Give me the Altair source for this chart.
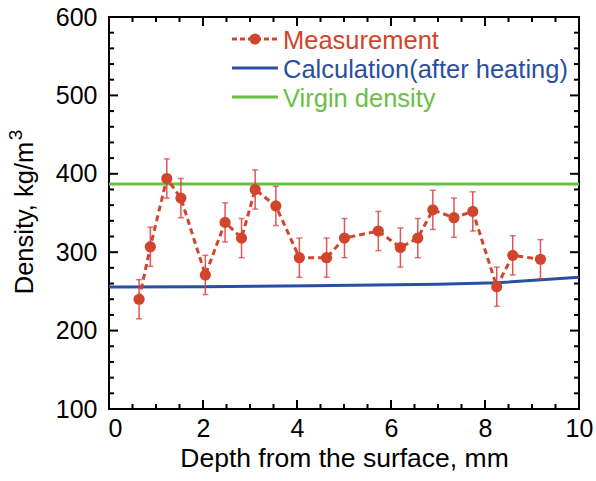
import altair as alt
import pandas as pd

# ---- data ----
meas_depth = [0.64, 0.88, 1.23, 1.53, 2.05, 2.47, 2.82, 3.11, 3.55, 4.05, 4.63,
              5.01, 5.73, 6.20, 6.57, 6.89, 7.34, 7.74, 8.25, 8.59, 9.18]
meas_density = [240, 307, 394, 369, 271, 338, 318, 380, 359, 293, 293,
                318, 327, 306, 318, 354, 344, 352, 256, 296, 291]
meas_error = [25, 25, 25, 25, 25, 25, 25, 25, 25, 25, 25,
              25, 25, 25, 25, 25, 25, 25, 25, 25, 25]

calc_depth = [0, 2, 4.3, 7, 8.25, 10]
calc_density = [255.5, 256, 257.3, 259, 261, 268]

virgin_depth = [0, 10]
virgin_density = [387, 387]

x_major = [0, 2, 4, 6, 8, 10]
x_minor = [0.5, 1, 1.5, 2.5, 3, 3.5, 4.5, 5, 5.5, 6.5, 7, 7.5, 8.5, 9, 9.5]
y_major = [100, 200, 300, 400, 500, 600]
y_minor = [120, 140, 160, 180, 220, 240, 260, 280, 320, 340, 360, 380,
           420, 440, 460, 480, 520, 540, 560, 580]

legend_labels = ["Measurement", "Calculation(after heating)", "Virgin density"]
x_title = "Depth from the surface, mm"
y_title_main = ["Density, kg/m"]
y_title_sup = ["3"]

RED = "#d0452c"
ERR = "#d9383c"
BLUE = "#2a4f9f"
GREEN = "#6abf45"
FONT = "Liberation Sans"
W, H = 470, 392

def X(field):
    return alt.X(f"{field}:Q", scale=alt.Scale(domain=[0, 10], nice=False, zero=False),
                 axis=alt.Axis(values=x_major, title=x_title,
                               tickSize=0, domain=False, grid=False, labelPadding=7,
                               labelFlush=False,
                               labelOffset={"condition": {"test": "datum.value == 0", "value": 6},
                                            "value": 0},
                               labelFontSize=25, titleFontSize=26.5, titlePadding=4,
                               labelFont=FONT, titleFont=FONT, titleFontWeight="normal",
                               labelColor="black", titleColor="black"))

def Y(field):
    return alt.Y(f"{field}:Q", scale=alt.Scale(domain=[100, 600], nice=False, zero=False),
                 axis=alt.Axis(values=y_major, title=None,
                               tickSize=0, domain=False, grid=False, labelPadding=12,
                               labelFlush=False,
                               labelFontSize=25, labelFont=FONT, labelColor="black"))

meas = pd.DataFrame({"x": meas_depth, "y": meas_density, "e": meas_error})
meas["lo"] = meas["y"] - meas["e"]
meas["hi"] = meas["y"] + meas["e"]
calc = pd.DataFrame({"x": calc_depth, "y": calc_density})
virgin = pd.DataFrame({"x": virgin_depth, "y": virgin_density})

virgin_line = alt.Chart(virgin).mark_line(color=GREEN, strokeWidth=3).encode(x=X("x"), y=Y("y"))
calc_line = alt.Chart(calc).mark_line(color=BLUE, strokeWidth=3).encode(x=X("x"), y=Y("y"))

err_rule = alt.Chart(meas).mark_rule(color=ERR, strokeWidth=1.5, opacity=0.85).encode(
    x=X("x"), y=Y("lo"), y2="hi")
err_lo = alt.Chart(meas).mark_tick(color=ERR, orient="horizontal", size=6, thickness=1.5).encode(
    x=X("x"), y=Y("lo"))
err_hi = alt.Chart(meas).mark_tick(color=ERR, orient="horizontal", size=6, thickness=1.5).encode(
    x=X("x"), y=Y("hi"))
meas_line = alt.Chart(meas).mark_line(color=RED, strokeWidth=3, strokeDash=[6, 4]).encode(
    x=X("x"), y=Y("y"))
meas_pts = alt.Chart(meas).mark_circle(color=RED, size=125, opacity=1).encode(
    x=X("x"), y=Y("y"))

# inward ticks on all four sides
xmaj = pd.DataFrame({"x": x_major})
xmin = pd.DataFrame({"x": x_minor})
ymaj = pd.DataFrame({"y": y_major})
ymin = pd.DataFrame({"y": y_minor})

def xticks(df, L):
    b = alt.Chart(df).mark_rule(color="black", strokeWidth=2).encode(
        x=X("x"), y=alt.value(H), y2=alt.value(H - L))
    t = alt.Chart(df).mark_rule(color="black", strokeWidth=2).encode(
        x=X("x"), y=alt.value(0), y2=alt.value(L))
    return [b, t]

def yticks(df, L):
    l = alt.Chart(df).mark_rule(color="black", strokeWidth=2).encode(
        y=Y("y"), x=alt.value(0), x2=alt.value(L))
    r = alt.Chart(df).mark_rule(color="black", strokeWidth=2).encode(
        y=Y("y"), x=alt.value(W), x2=alt.value(W - L))
    return [l, r]

ticks = xticks(xmaj, 9) + xticks(xmin, 5) + yticks(ymaj, 9) + yticks(ymin, 5)

# y-axis title with a real superscript
ytitle_main = alt.Chart(pd.DataFrame({"t": y_title_main})).mark_text(
    fontSize=25.5, font=FONT, color="black", angle=270, align="center", baseline="alphabetic"
).encode(x=alt.value(-76), y=alt.value(201), text="t:N")
ytitle_sup = alt.Chart(pd.DataFrame({"t": y_title_sup})).mark_text(
    fontSize=19, font=FONT, color="black", angle=270, align="center", baseline="alphabetic"
).encode(x=alt.value(-87), y=alt.value(118), text="t:N")

# manual legend (inside plot, top-left)
leg_colors = [RED, BLUE, GREEN]
leg_rows = [22, 51, 80]
legend_layers = []
for lab, col, ry in zip(legend_labels, leg_colors, leg_rows):
    dash = [5, 3] if lab == "Measurement" else [1, 0]
    legend_layers.append(alt.Chart(pd.DataFrame({"label": [lab]})).mark_rule(
        color=col, strokeWidth=3, strokeDash=dash).encode(
        x=alt.value(123), x2=alt.value(169), y=alt.value(ry)))
    legend_layers.append(alt.Chart(pd.DataFrame({"label": [lab]})).mark_text(
        color=col, fontSize=25.5, font=FONT, align="left", baseline="middle").encode(
        x=alt.value(174), y=alt.value(ry + 2), text="label:N"))
legend_layers.append(alt.Chart(pd.DataFrame({"label": ["Measurement"]})).mark_circle(
    color=RED, size=125, opacity=1).encode(x=alt.value(146), y=alt.value(leg_rows[0])))

chart = alt.layer(
    virgin_line, calc_line, err_rule, err_lo, err_hi, meas_line, meas_pts,
    *ticks, ytitle_main, ytitle_sup, *legend_layers
).properties(
    width=W, height=H,
    autosize=alt.AutoSizeParams(type="none"),
    padding={"left": 109, "top": 17, "right": 17, "bottom": 72},
    background="white",
).configure_view(stroke="black", strokeWidth=2)

chart.save("out.html", embed_options={"renderer": "svg", "actions": False})
